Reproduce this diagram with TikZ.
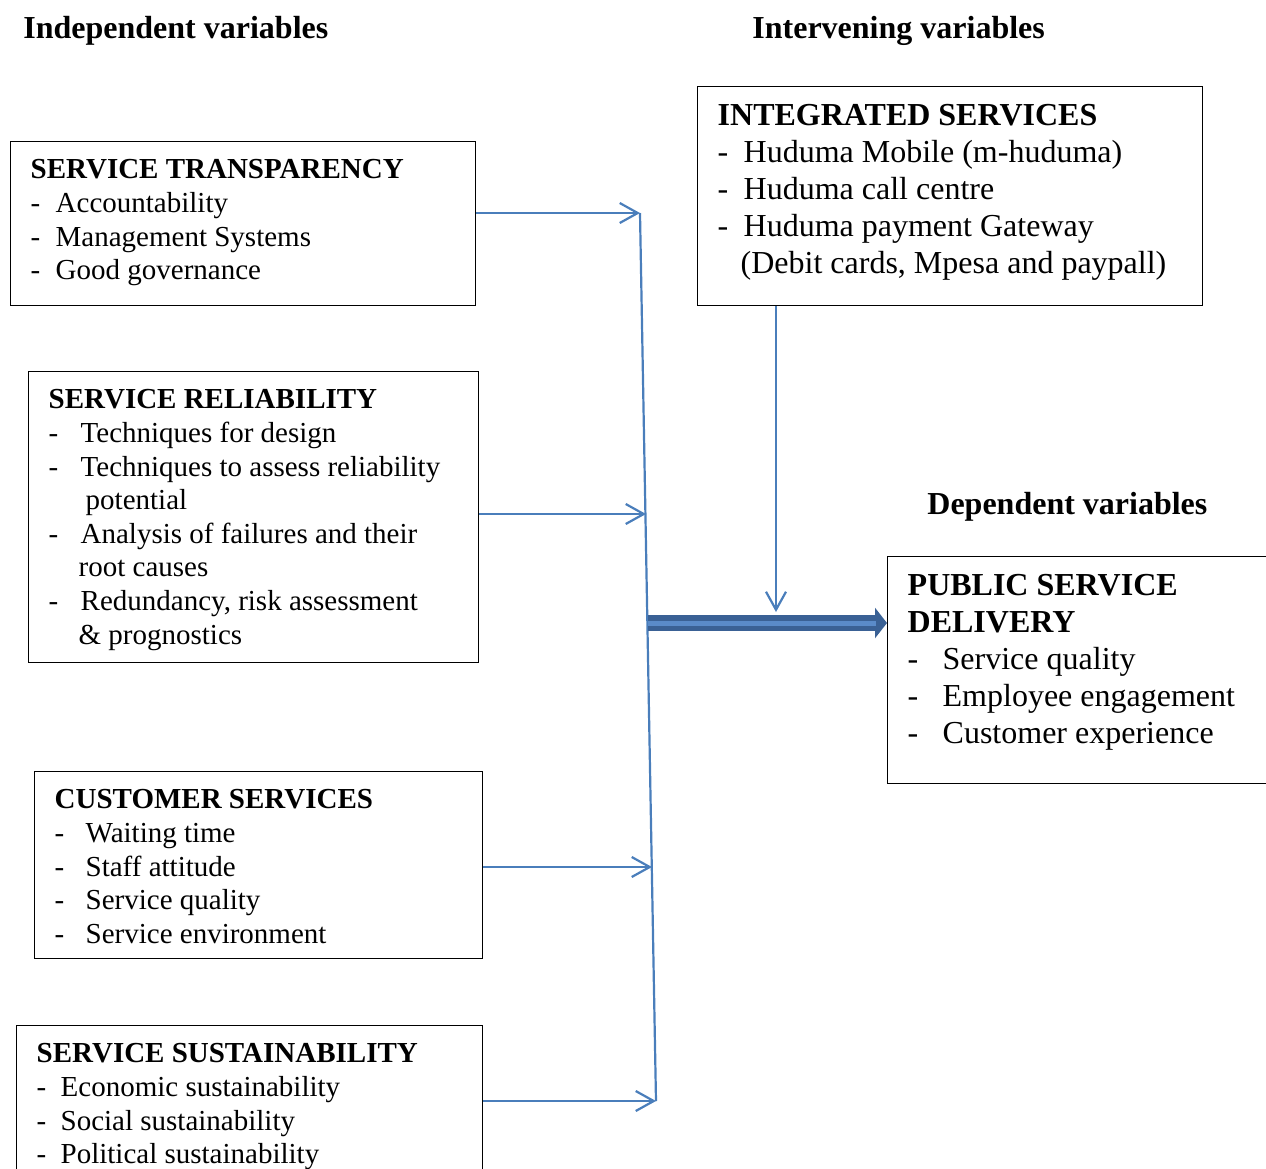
\documentclass[tikz,border=0pt]{standalone}
\usepackage{fontspec}
\setmainfont{Liberation Serif}
\usetikzlibrary{arrows.meta}
\usepackage{xcolor}
\definecolor{linkblue}{HTML}{4A7EBB}
\definecolor{barblue}{HTML}{3A6195}
\definecolor{barlight}{HTML}{5A8BC9}
\newcommand{\leftfont}{\fontsize{14.5}{16.8}\selectfont}
\newcommand{\rightfont}{\fontsize{16}{18.5}\selectfont}
\newcommand{\itm}[1]{\makebox[#1][l]{-}}

\begin{document}
\begin{tikzpicture}[x=0.5pt,y=-0.5pt,
		varbox/.style={draw,line width=0.7pt,anchor=north west,inner xsep=10pt,inner ysep=9pt},
		heading/.style={anchor=base west,inner sep=0pt,font=\rightfont\bfseries},
		link/.style={draw=linkblue,line width=1.1pt,-{Straight Barb[length=9pt,width=10pt]}}]
				\useasboundingbox (0,0) rectangle (1266,1169);
				
				\node(indep) at (23,38)[heading]{Independent variables};
				\node(interv) at (752,38)[heading]{Intervening variables};
				\node(dep) at (927,514)[heading]{Dependent variables};
				
				\node(trans) at (10,141)[varbox]{\parbox[c][64pt][t]{212.5pt}{\leftfont
						\textbf{SERVICE TRANSPARENCY}\\
						\itm{12.5pt}Accountability\\
						\itm{12.5pt}Management Systems\\
						\itm{12.5pt}Good governance}};
				\node(rel) at (28,371)[varbox]{\parbox[c][127.5pt][t]{205pt}{\leftfont
						\textbf{SERVICE RELIABILITY}\\
						\itm{16pt}Techniques for design\\
						\itm{16pt}Techniques to assess reliability\\
						\hspace*{18.5pt}potential\\
						\itm{16pt}Analysis of failures and their\\
						\hspace*{15pt}root causes\\
						\itm{16pt}Redundancy, risk assessment\\
						\hspace*{15pt}\& prognostics}};
				\node(cust) at (34,771)[varbox]{\parbox[c][75.5pt][t]{204pt}{\leftfont
						\textbf{CUSTOMER SERVICES}\\
						\itm{15.5pt}Waiting time\\
						\itm{15.5pt}Staff attitude\\
						\itm{15.5pt}Service quality\\
						\itm{15.5pt}Service environment}};
				\node(sust) at (16,1025)[varbox]{\parbox[c][69.5pt][t]{213pt}{\leftfont
						\textbf{SERVICE SUSTAINABILITY}\\
						\itm{12pt}Economic sustainability\\
						\itm{12pt}Social sustainability\\
						\itm{12pt}Political sustainability}};
				\node(integ) at (697,86)[varbox]{\parbox[c][91.5pt][t]{232.5pt}{\rightfont
						\textbf{INTEGRATED SERVICES}\\
						\itm{13pt}Huduma Mobile (m-huduma)\\
						\itm{13pt}Huduma call centre\\
						\itm{13pt}Huduma payment Gateway\\
						\hspace*{11.5pt}(Debit cards, Mpesa and paypall)}};
				\node(pub) at (887,556)[varbox]{\parbox[c][95.5pt][t]{190pt}{\rightfont
						\textbf{PUBLIC SERVICE}\\
						\textbf{DELIVERY}\\
						\itm{17.5pt}Service quality\\
						\itm{17.5pt}Employee engagement\\
						\itm{17.5pt}Customer experience}};
				
				\coordinate(j1) at (640,213);
				\coordinate(j2) at (646,514);
				\coordinate(j3) at (652,867);
				\coordinate(j4) at (656,1101);
				\coordinate(hub) at (648,623);
				\coordinate(barend) at (876,623);
				\coordinate(drop) at (776,612);
				
				\draw[linkblue,line width=1.1pt] (j1) -- (j4);
				\draw[link] (trans.east |- j1) -- (j1);
				\draw[link] (rel.east |- j2) -- (j2);
				\draw[link] (cust.east |- j3) -- (j3);
				\draw[link] (sust.east |- j4) -- (j4);
				\draw[link] (integ.south -| drop) -- (drop);
				\draw[barblue,line width=8pt,-{Triangle[length=6pt,width=15pt]}] (hub) -- (pub.west |- hub);
				\draw[barlight,line width=2.5pt] (hub) -- (barend);
				
			\end{tikzpicture}
\end{document}
